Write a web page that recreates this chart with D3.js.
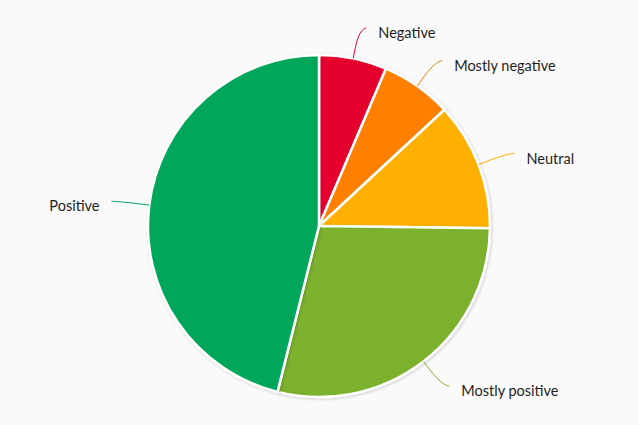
<!DOCTYPE html>
<html>
<head>
<meta charset="utf-8">
<script src="https://cdn.jsdelivr.net/npm/d3@7/dist/d3.min.js"></script>
<style>
html,body{margin:0;padding:0;background:#fafafa;}
svg{display:block;}
</style>
</head>
<body>
<svg id="chart" width="638" height="425"></svg>
<script>
const categories = ["Negative", "Mostly negative", "Neutral", "Mostly positive", "Positive"];
const values = [6.4, 6.7, 12.1, 28.7, 46.1];
const colors = ["#e6002f", "#ff8000", "#ffb000", "#7bb12e", "#00a65a"];

const W = 638, H = 425;
const cx = 319, cy = 226, r = 171;
const svg = d3.select("#chart");
svg.append("rect").attr("width", W).attr("height", H).attr("fill", "#fafafa");

const defs = svg.append("defs");
const f = defs.append("filter").attr("id", "shadow").attr("x", "-20%").attr("y", "-20%").attr("width", "140%").attr("height", "140%");
f.append("feDropShadow").attr("dx", 1).attr("dy", 1).attr("stdDeviation", 1.5).attr("flood-color", "#000").attr("flood-opacity", 0.18);

const data = categories.map((c, i) => ({name: c, value: values[i], color: colors[i]}));
const pie = d3.pie().value(d => d.value).sort(null);
const arcs = pie(data);
const arc = d3.arc().innerRadius(0).outerRadius(r);

const g = svg.append("g").attr("transform", `translate(${cx},${cy})`);
g.selectAll("path.slice").data(arcs).enter().append("path")
  .attr("class", "slice")
  .attr("d", arc)
  .attr("fill", d => d.data.color)
  .attr("stroke", "#ffffff")
  .attr("stroke-width", 2.5)
  .attr("stroke-linejoin", "round")
  .attr("filter", "url(#shadow)");

function polar(a, rad) { return [Math.sin(a) * rad, -Math.cos(a) * rad]; }

const lg = svg.append("g").attr("transform", `translate(${cx},${cy})`);
arcs.forEach(d => {
  const mid = (d.startAngle + d.endAngle) / 2;
  const sign = Math.sin(mid) >= 0 ? 1 : -1;
  const edge = polar(mid, r);
  const brk = polar(mid, r + 12);
  const outer = polar(mid, r + 31);
  const end = [outer[0] + sign * 7, outer[1]];
  const path = `M${end[0]},${end[1]} C${end[0] - sign * 4},${end[1]} ${2 * brk[0] - edge[0]},${2 * brk[1] - edge[1]} ${brk[0]},${brk[1]} L${edge[0]},${edge[1]}`;
  lg.append("path").attr("d", path).attr("fill", "none")
    .attr("stroke", d.data.color).attr("stroke-width", 1);
  lg.append("text")
    .attr("x", end[0] + sign * 12)
    .attr("y", end[1] + 5)
    .attr("dy", "0.35em")
    .attr("text-anchor", sign > 0 ? "start" : "end")
    .attr("font-family", "Lato, 'Noto Sans', sans-serif")
    .attr("font-size", 14.5)
    .attr("fill", "#1e1e1e")
    .text(d.data.name);
});
</script>
</body>
</html>
